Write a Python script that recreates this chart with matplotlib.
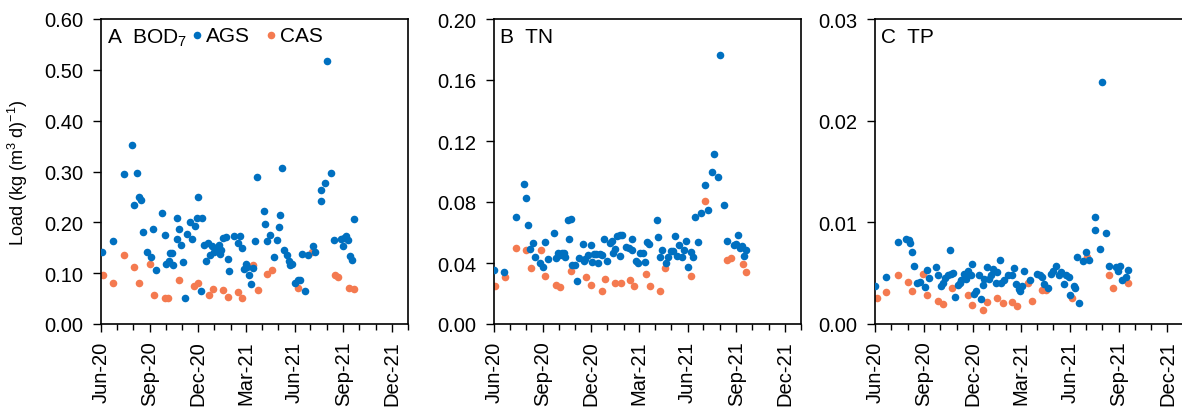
import matplotlib
matplotlib.use("Agg")
import matplotlib.pyplot as plt
import matplotlib.dates as mdates
from matplotlib.ticker import FormatStrFormatter, MultipleLocator
import pandas as pd

plt.rcParams['font.family'] = ['Liberation Sans', 'DejaVu Sans']
plt.rcParams['mathtext.fontset'] = 'custom'
plt.rcParams['mathtext.rm'] = 'Liberation Sans'
plt.rcParams['mathtext.it'] = 'Liberation Sans'

start = pd.Timestamp('2020-06-01')

# sampling days counted from 1 Jun 2020, loads in kg/(m3 d)
bod_ags_day = [1, 22, 44, 59, 67, 63, 71, 75, 79, 87, 95, 99, 103, 115, 120, 123, 128, 130,
               134, 135, 143, 143, 147, 150, 155, 159, 163, 168, 172, 177, 181, 183, 190, 188,
               195, 198, 202, 206, 210, 214, 217, 222, 224, 227, 230, 235, 239, 242, 251, 259,
               263, 266, 269, 273, 276, 279, 282, 286, 291, 295, 307, 310, 314, 318, 327, 331,
               335, 338, 341, 346, 350, 354, 357, 361, 366, 371, 376, 379, 385, 391, 399, 404,
               414, 415, 423, 427, 434, 440, 452, 457, 459, 462, 466, 469, 474, 477]
bod_ags = [0.142, 0.164, 0.295, 0.352, 0.298, 0.235, 0.250, 0.244, 0.181, 0.141, 0.132, 0.187,
           0.106, 0.219, 0.175, 0.119, 0.123, 0.140, 0.140, 0.117, 0.209, 0.167, 0.187, 0.155,
           0.121, 0.052, 0.178, 0.201, 0.167, 0.193, 0.208, 0.250, 0.209, 0.064, 0.156, 0.123,
           0.159, 0.136, 0.154, 0.141, 0.149, 0.156, 0.138, 0.146, 0.170, 0.172, 0.127, 0.105,
           0.173, 0.159, 0.174, 0.149, 0.108, 0.118, 0.112, 0.096, 0.079, 0.110, 0.163, 0.290,
           0.223, 0.196, 0.164, 0.175, 0.132, 0.165, 0.191, 0.214, 0.306, 0.146, 0.136, 0.123,
           0.117, 0.118, 0.080, 0.087, 0.087, 0.138, 0.064, 0.136, 0.154, 0.141, 0.241, 0.263,
           0.277, 0.517, 0.298, 0.165, 0.168, 0.154, 0.170, 0.174, 0.165, 0.133, 0.125, 0.207]
bod_cas_day = [4, 22, 44, 63, 71, 92, 100, 120, 127, 147, 176, 183, 203, 211, 231, 240, 259,
               266, 286, 296, 314, 322, 371, 398, 442, 447, 468, 477]
bod_cas = [0.096, 0.081, 0.136, 0.112, 0.081, 0.118, 0.058, 0.051, 0.052, 0.087, 0.075, 0.081,
           0.058, 0.068, 0.066, 0.053, 0.063, 0.051, 0.116, 0.066, 0.098, 0.107, 0.071, 0.142,
           0.096, 0.093, 0.071, 0.069]

tn_ags_day = [0, 19, 41, 56, 61, 65, 68, 73, 77, 86, 93, 97, 101, 114, 117, 121, 125, 128, 132,
              133, 140, 145, 141, 148, 153, 157, 160, 167, 169, 172, 177, 182, 184, 188, 193,
              196, 200, 204, 208, 213, 219, 222, 225, 229, 232, 237, 238, 242, 249, 254, 260,
              261, 267, 272, 276, 281, 285, 289, 293, 307, 310, 313, 317, 325, 329, 333, 337,
              341, 345, 349, 354, 358, 362, 366, 371, 375, 379, 384, 390, 398, 403, 412, 414,
              422, 426, 434, 440, 453, 457, 461, 464, 468, 472, 476]
tn_ags = [0.0355, 0.0342, 0.0704, 0.0919, 0.0826, 0.0647, 0.0495, 0.0534, 0.0440, 0.0401,
          0.0373, 0.0538, 0.0427, 0.0595, 0.0431, 0.0468, 0.0453, 0.0464, 0.0464, 0.0440,
          0.0680, 0.0688, 0.0556, 0.0388, 0.0388, 0.0283, 0.0436, 0.0527, 0.0410, 0.0425,
          0.0453, 0.0521, 0.0405, 0.0462, 0.0458, 0.0397, 0.0460, 0.0455, 0.0558, 0.0416,
          0.0529, 0.0543, 0.0468, 0.0495, 0.0575, 0.0445, 0.0582, 0.0586, 0.0508, 0.0501,
          0.0556, 0.0486, 0.0414, 0.0397, 0.0466, 0.0466, 0.0405, 0.0540, 0.0527, 0.0684,
          0.0573, 0.0440, 0.0488, 0.0401, 0.0440, 0.0481, 0.0481, 0.0579, 0.0444, 0.0518,
          0.0440, 0.0486, 0.0547, 0.0375, 0.0473, 0.0440, 0.0704, 0.0538, 0.0728, 0.0911,
          0.0747, 0.0994, 0.1113, 0.0967, 0.1763, 0.0778, 0.0543, 0.0519, 0.0523, 0.0586,
          0.0497, 0.0512, 0.0444, 0.0488]
tn_cas_day = [2, 20, 41, 61, 69, 89, 97, 116, 125, 145, 174, 182, 203, 210, 228, 239, 256,
              264, 286, 294, 314, 322, 371, 398, 440, 447, 469, 476]
tn_cas = [0.0251, 0.0307, 0.0499, 0.0486, 0.0364, 0.0486, 0.0312, 0.0255, 0.0242, 0.0349,
          0.0307, 0.0259, 0.0218, 0.0294, 0.0270, 0.0266, 0.0290, 0.0246, 0.0327, 0.0251,
          0.0214, 0.0364, 0.0318, 0.0806, 0.0418, 0.0436, 0.0392, 0.0344]

tp_ags_day = [0, 21, 43, 59, 63, 66, 70, 73, 78, 85, 94, 98, 102, 114, 118, 123, 127, 131,
              136, 141, 143, 147, 150, 155, 159, 162, 166, 171, 175, 179, 182, 186, 189, 194,
              198, 202, 205, 209, 213, 217, 222, 226, 229, 234, 237, 242, 249, 257, 261, 265,
              269, 272, 276, 280, 291, 304, 309, 313, 317, 325, 330, 334, 340, 344, 348, 354,
              358, 363, 366, 372, 375, 378, 383, 390, 396, 401, 412, 413, 421, 425, 432, 438,
              451, 455, 460, 462, 470, 475]
tp_ags = [0.0037, 0.0046, 0.0081, 0.0084, 0.0083, 0.0080, 0.0071, 0.0057, 0.0040, 0.0041,
          0.0036, 0.0053, 0.0045, 0.0056, 0.0048, 0.0037, 0.0040, 0.0045, 0.0048, 0.0073,
          0.0049, 0.0050, 0.0027, 0.0038, 0.0040, 0.0043, 0.0049, 0.0044, 0.0052, 0.0048,
          0.0059, 0.0030, 0.0032, 0.0048, 0.0025, 0.0038, 0.0044, 0.0056, 0.0044, 0.0048,
          0.0054, 0.0040, 0.0051, 0.0063, 0.0040, 0.0043, 0.0048, 0.0048, 0.0055, 0.0039,
          0.0034, 0.0032, 0.0037, 0.0052, 0.0043, 0.0049, 0.0048, 0.0046, 0.0039, 0.0035,
          0.0049, 0.0052, 0.0057, 0.0048, 0.0051, 0.0039, 0.0048, 0.0046, 0.0029, 0.0037,
          0.0035, 0.0066, 0.0021, 0.0062, 0.0071, 0.0063, 0.0092, 0.0105, 0.0074, 0.0238,
          0.0090, 0.0057, 0.0056, 0.0052, 0.0057, 0.0043, 0.0046, 0.0053]
tp_cas_day = [3, 21, 43, 61, 70, 90, 98, 118, 127, 145, 174, 182, 202, 209, 229, 239, 257,
              266, 286, 294, 313, 321, 370, 398, 438, 446, 468, 475]
tp_cas = [0.0026, 0.0031, 0.0048, 0.0041, 0.0032, 0.0049, 0.0029, 0.0023, 0.0020, 0.0035,
          0.0029, 0.0019, 0.0014, 0.0022, 0.0026, 0.0021, 0.0022, 0.0018, 0.0040, 0.0023,
          0.0033, 0.0033, 0.0026, 0.0066, 0.0048, 0.0035, 0.0044, 0.0040]

panels = [
    ('A  BOD$_7$', bod_ags_day, bod_ags, bod_cas_day, bod_cas, 0.60, 0.10),
    ('B  TN', tn_ags_day, tn_ags, tn_cas_day, tn_cas, 0.20, 0.04),
    ('C  TP', tp_ags_day, tp_ags, tp_cas_day, tp_cas, 0.03, 0.01),
]

blue = '#0070C0'
orange = '#F47A50'

fig = plt.figure(figsize=(11.82, 4.10), dpi=100)
boxes = [(101, 307), (494, 307), (875, 309)]
axes = [fig.add_axes([l / 1182, 85 / 410, w / 1182, 305 / 410]) for l, w in boxes]

for ax, (label, ad, av, cd, cv, ymax, ystep) in zip(axes, panels):
    a_dates = start + pd.to_timedelta(ad, unit='D')
    c_dates = start + pd.to_timedelta(cd, unit='D')
    ax.scatter(a_dates, av, s=30, color=blue, linewidths=0, label='AGS', zorder=3)
    ax.scatter(c_dates, cv, s=30, color=orange, linewidths=0, label='CAS', zorder=2)

    ax.set_xlim(pd.Timestamp('2020-06-01'), pd.Timestamp('2022-01-01'))
    ax.set_ylim(0, ymax)
    ax.yaxis.set_major_locator(MultipleLocator(ystep))
    ax.yaxis.set_major_formatter(FormatStrFormatter('%.2f'))

    ax.xaxis.set_major_locator(mdates.MonthLocator(bymonth=[3, 6, 9, 12]))
    ax.xaxis.set_minor_locator(mdates.MonthLocator())
    ax.xaxis.set_major_formatter(mdates.DateFormatter('%b-%y'))

    ax.tick_params(axis='both', which='major', direction='out', length=6, width=1,
                   labelsize=14.5, color='black')
    ax.tick_params(axis='y', which='major', pad=7)
    ax.tick_params(axis='x', which='major', rotation=90, pad=6)
    ax.tick_params(axis='x', which='minor', direction='out', length=4, width=1)
    for sp in ax.spines.values():
        sp.set_linewidth(1.2)
        sp.set_color('black')

    ax.text(0.018, 0.975, label, transform=ax.transAxes, ha='left', va='top', fontsize=15)

axes[0].set_ylabel('Load (kg (m$^3$ d)$^{-1}$)', fontsize=13, labelpad=10)
axes[0].legend(loc='upper left', bbox_to_anchor=(0.23, 1.025), ncol=2, frameon=False,
               fontsize=15, handletextpad=-0.05, columnspacing=0.5, markerscale=1.0,
               handlelength=1.0, borderpad=0.2)

fig.savefig('out.png', dpi=100)
